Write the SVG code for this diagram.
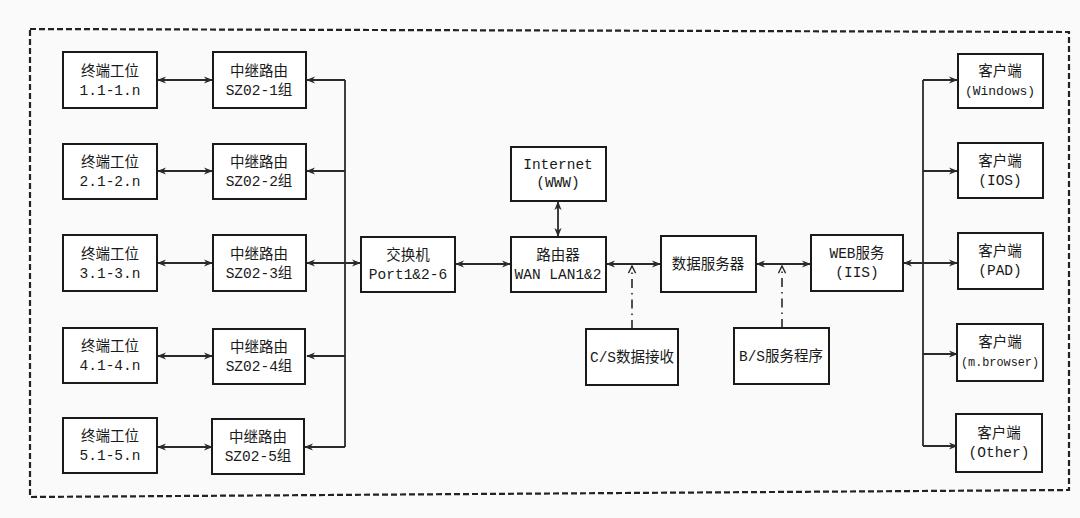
<svg xmlns="http://www.w3.org/2000/svg" width="1080" height="518" viewBox="0 0 1080 518">
<style>
.b{fill:#fff;stroke:#1a1a1a;stroke-width:2}
.t{font-family:"Liberation Mono","Noto Sans CJK SC",monospace;font-size:14.5px;fill:#1a1a1a;text-anchor:middle}
.s{font-size:13px}
.c{fill:none;stroke:#2a2a2a;stroke-width:1.8}
.d{fill:none;stroke:#2a2a2a;stroke-width:1.6;stroke-dasharray:9 5 1.5 5}
</style>
<defs>
<marker id="a" viewBox="0 0 10 10" refX="9" refY="5" markerWidth="9" markerHeight="9" markerUnits="userSpaceOnUse" orient="auto-start-reverse">
<path d="M0,1 L10,5 L0,9 L3,5 Z" fill="#2a2a2a"/>
</marker>
<marker id="o" viewBox="0 0 10 10" refX="9" refY="5" markerWidth="9" markerHeight="9" markerUnits="userSpaceOnUse" orient="auto">
<path d="M1,1 L9,5 L1,9" fill="none" stroke="#2a2a2a" stroke-width="1.6"/>
</marker>
</defs>
<rect width="1080" height="518" fill="#fafafa"/>
<path d="M30,29 L1069,32 L1069,490 L30,497 Z" fill="none" stroke="#222" stroke-width="2.2" stroke-dasharray="6 3"/>

<g id="connectors">
<line class="c" x1="158" y1="80" x2="212" y2="80" marker-start="url(#a)" marker-end="url(#a)"/>
<line class="c" x1="158" y1="171" x2="212" y2="171" marker-start="url(#a)" marker-end="url(#a)"/>
<line class="c" x1="158" y1="263" x2="212" y2="263" marker-start="url(#a)" marker-end="url(#a)"/>
<line class="c" x1="158" y1="356" x2="212" y2="356" marker-start="url(#a)" marker-end="url(#a)"/>
<line class="c" x1="158" y1="447" x2="212" y2="447" marker-start="url(#a)" marker-end="url(#a)"/>
<path class="c" d="M345,80 V447"/>
<line class="c" x1="345" y1="80" x2="307" y2="80" marker-end="url(#a)"/>
<line class="c" x1="345" y1="171" x2="307" y2="171" marker-end="url(#a)"/>
<line class="c" x1="307" y1="263" x2="360" y2="263" marker-start="url(#a)" marker-end="url(#a)"/>
<line class="c" x1="345" y1="356" x2="307" y2="356" marker-end="url(#a)"/>
<line class="c" x1="345" y1="447" x2="305" y2="447" marker-end="url(#a)"/>
<line class="c" x1="456" y1="264" x2="510" y2="264" marker-start="url(#a)" marker-end="url(#a)"/>
<line class="c" x1="558" y1="202" x2="558" y2="236" marker-start="url(#a)" marker-end="url(#a)"/>
<line class="c" x1="607" y1="264" x2="660" y2="264" marker-start="url(#a)" marker-end="url(#a)"/>
<line class="c" x1="757" y1="264" x2="810" y2="264" marker-start="url(#a)" marker-end="url(#a)"/>
<line class="d" x1="632" y1="329" x2="632" y2="266" marker-end="url(#o)"/>
<line class="d" x1="782" y1="328" x2="782" y2="266" marker-end="url(#o)"/>
<path class="c" d="M923,80 V446"/>
<line class="c" x1="904" y1="263" x2="957" y2="263" marker-start="url(#a)" marker-end="url(#a)"/>
<line class="c" x1="923" y1="80" x2="957" y2="80" marker-end="url(#a)"/>
<line class="c" x1="923" y1="171" x2="957" y2="171" marker-end="url(#a)"/>
<line class="c" x1="923" y1="354" x2="957" y2="354" marker-end="url(#a)"/>
<line class="c" x1="923" y1="446" x2="957" y2="446" marker-end="url(#a)"/>
</g>

<g id="term1"><rect class="b" x="63" y="52" width="94" height="56"/><text class="t" x="110" y="76">终端工位</text><text class="t" x="110" y="95">1.1-1.n</text></g>
<g id="term2"><rect class="b" x="63" y="144" width="94" height="55"/><text class="t" x="110" y="167">终端工位</text><text class="t" x="110" y="186">2.1-2.n</text></g>
<g id="term3"><rect class="b" x="63" y="235" width="94" height="56"/><text class="t" x="110" y="259">终端工位</text><text class="t" x="110" y="278">3.1-3.n</text></g>
<g id="term4"><rect class="b" x="63" y="328" width="94" height="55"/><text class="t" x="110" y="351">终端工位</text><text class="t" x="110" y="370">4.1-4.n</text></g>
<g id="term5"><rect class="b" x="63" y="418" width="94" height="55"/><text class="t" x="110" y="441">终端工位</text><text class="t" x="110" y="460">5.1-5.n</text></g>

<g id="relay1"><rect class="b" x="213" y="52" width="93" height="56"/><text class="t" x="259" y="76">中继路由</text><text class="t" x="259" y="95">SZ02-1组</text></g>
<g id="relay2"><rect class="b" x="213" y="144" width="93" height="55"/><text class="t" x="259" y="167">中继路由</text><text class="t" x="259" y="186">SZ02-2组</text></g>
<g id="relay3"><rect class="b" x="213" y="235" width="93" height="56"/><text class="t" x="259" y="259">中继路由</text><text class="t" x="259" y="278">SZ02-3组</text></g>
<g id="relay4"><rect class="b" x="213" y="329" width="92" height="55"/><text class="t" x="259" y="352">中继路由</text><text class="t" x="259" y="371">SZ02-4组</text></g>
<g id="relay5"><rect class="b" x="212" y="419" width="92" height="55"/><text class="t" x="258" y="442">中继路由</text><text class="t" x="258" y="461">SZ02-5组</text></g>

<g id="switch"><rect class="b" x="361" y="237" width="94" height="55"/><text class="t" x="408" y="260">交换机</text><text class="t" x="408" y="279">Port1&amp;2-6</text></g>
<g id="internet"><rect class="b" x="511" y="147" width="95" height="54"/><text class="t" x="558" y="169">Internet</text><text class="t" x="558" y="187">(WWW)</text></g>
<g id="router"><rect class="b" x="511" y="237" width="95" height="55"/><text class="t" x="558" y="260">路由器</text><text class="t" x="558" y="279">WAN LAN1&amp;2</text></g>
<g id="dataserver"><rect class="b" x="661" y="236" width="95" height="56"/><text class="t" x="708" y="269">数据服务器</text></g>
<g id="web"><rect class="b" x="811" y="235" width="92" height="56"/><text class="t" x="857" y="258">WEB服务</text><text class="t" x="857" y="277">(IIS)</text></g>
<g id="cs"><rect class="b" x="586" y="329" width="92" height="56"/><text class="t" x="632" y="362">C/S数据接收</text></g>
<g id="bs"><rect class="b" x="734" y="328" width="95" height="56"/><text class="t" x="781" y="361">B/S服务程序</text></g>

<g id="client1"><rect class="b" x="958" y="54" width="85" height="54"/><text class="t" x="1000" y="76">客户端</text><text class="t s" x="1000" y="95">(Windows)</text></g>
<g id="client2"><rect class="b" x="958" y="143" width="85" height="55"/><text class="t" x="1000" y="166">客户端</text><text class="t" x="1000" y="185">(IOS)</text></g>
<g id="client3"><rect class="b" x="958" y="233" width="85" height="56"/><text class="t" x="1000" y="256">客户端</text><text class="t" x="1000" y="275">(PAD)</text></g>
<g id="client4"><rect class="b" x="957" y="324" width="86" height="57"/><text class="t" x="1000" y="347">客户端</text><text class="t s" x="1000" y="366" textLength="78" lengthAdjust="spacingAndGlyphs">(m.browser)</text></g>
<g id="client5"><rect class="b" x="956" y="414" width="86" height="58"/><text class="t" x="999" y="438">客户端</text><text class="t" x="999" y="457">(Other)</text></g>
</svg>
